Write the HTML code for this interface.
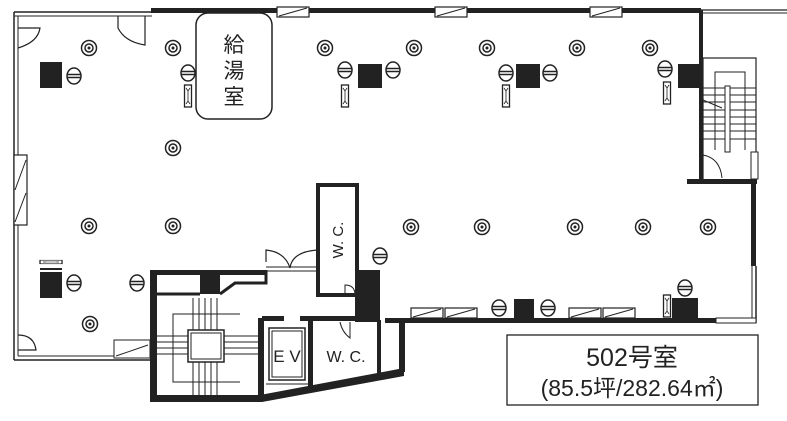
<!DOCTYPE html>
<html><head><meta charset="utf-8"><style>
html,body{margin:0;padding:0;background:#fff;}
svg{display:block;}
text{font-family:"Liberation Sans","Noto Sans CJK JP",sans-serif;fill:#222;}
</style></head><body>
<svg width="787" height="421" viewBox="0 0 787 421" xmlns="http://www.w3.org/2000/svg">
<defs>
<g id="lt"><circle r="7.5" fill="#fff" stroke="#222" stroke-width="1.5"/><circle r="4" fill="none" stroke="#222" stroke-width="1.5"/><circle r="1.5" fill="#222"/></g>
<g id="sc"><ellipse rx="7" ry="8" fill="#fff" stroke="#222" stroke-width="1.5"/><line x1="-7" y1="-1.5" x2="7" y2="-1.5" stroke="#222" stroke-width="1.5"/><line x1="-7" y1="1.5" x2="7" y2="1.5" stroke="#222" stroke-width="1.5"/></g>
<g id="hg"><rect x="-3.5" y="-11" width="7" height="22" fill="#fff" stroke="#222" stroke-width="1.3"/><path d="M-2 -8 L0 -5 L2 -8 M-2 8 L0 5 L2 8 M0 -5 V5" stroke="#222" fill="none" stroke-width="0.8"/></g>
<g id="win"><rect x="0" y="-5" width="32" height="10" fill="#fff" stroke="#222" stroke-width="1.2"/><line x1="2" y1="4" x2="30" y2="-4" stroke="#222" stroke-width="1"/></g>
</defs>
<g fill="none" stroke="#222">
<line x1="14" y1="12" x2="152" y2="12" stroke-width="1.5"/>
<line x1="14" y1="16" x2="152" y2="16" stroke-width="1"/>
<rect x="151" y="8" width="550" height="5" fill="#222" stroke="none"/>
<line x1="700" y1="10" x2="787" y2="10" stroke-width="1.2"/>
<line x1="700" y1="13" x2="787" y2="13" stroke-width="1"/>
<line x1="14" y1="12" x2="14" y2="360" stroke-width="1.5"/>
<line x1="18" y1="16" x2="18" y2="356" stroke-width="1"/>
<line x1="14" y1="360" x2="152" y2="360" stroke-width="1.5"/>
<line x1="18" y1="356" x2="152" y2="356" stroke-width="1"/>
<rect x="14" y="155" width="13" height="70" fill="#fff" stroke-width="1.2"/>
<line x1="15" y1="190" x2="26" y2="160" stroke-width="1"/>
<line x1="15" y1="222" x2="26" y2="193" stroke-width="1"/>
<path d="M18 28 H40 Q38 42 18 48" stroke-width="1.2"/>
<path d="M118 16 V28 Q125 42 145 45 V16" stroke-width="1.2"/>
<path d="M18 335 Q34 335 36 350 H18" stroke-width="1.2"/>
<rect x="699" y="10" width="4" height="170" fill="#222" stroke="none"/>
<rect x="703" y="58" width="53" height="122" fill="none" stroke-width="1.2"/>
<rect x="687" y="179" width="70" height="5" fill="#222" stroke="none"/>
<rect x="751" y="184" width="5" height="82" fill="#222" stroke="none"/>
<line x1="756" y1="266" x2="756" y2="323" stroke-width="1.5"/>
<line x1="752" y1="266" x2="752" y2="320" stroke-width="1"/>
<rect x="751" y="152" width="7" height="27" fill="#fff" stroke-width="1"/>
<g stroke-width="1">
<line x1="703" y1="88" x2="756" y2="88"/><line x1="703" y1="95" x2="756" y2="95"/><line x1="703" y1="102" x2="756" y2="102"/><line x1="703" y1="110" x2="756" y2="110"/><line x1="703" y1="117" x2="756" y2="117"/><line x1="703" y1="124" x2="756" y2="124"/><line x1="703" y1="131" x2="756" y2="131"/><line x1="703" y1="139" x2="756" y2="139"/>
<rect x="725" y="86" width="5" height="66" fill="#fff"/>
<path d="M715 150 V72 H745 V150"/>
<path d="M703 100 L722 108"/>
<path d="M703 178 V155 Q720 158 722 178"/>
</g>
<rect x="385" y="318" width="370" height="5" fill="#222" stroke="none"/>
<g transform="translate(411,313)"><use href="#win"/></g>
<g transform="translate(445,313)"><use href="#win"/></g>
<g transform="translate(569,313)"><use href="#win"/></g>
<g transform="translate(603,313)"><use href="#win"/></g>
<rect x="716" y="318" width="40" height="5" fill="#fff" stroke-width="1"/>
<g transform="translate(277,12)"><use href="#win"/></g>
<g transform="translate(435,12)"><use href="#win"/></g>
<g transform="translate(590,12)"><use href="#win"/></g>
<rect x="196" y="13" width="76" height="106" rx="12" fill="#fff" stroke-width="1.5"/>
<rect x="318" y="185" width="39" height="110" fill="#fff" stroke-width="4"/>
<path d="M345 295 V285 Q355 285 355 295" stroke-width="1"/>
<path d="M266 262 V250 Q285 252 290 268 Q292 252 317 250 V262" stroke-width="1.2"/>
<line x1="266" y1="267" x2="317" y2="267" stroke-width="1"/>
<line x1="266" y1="271" x2="317" y2="271" stroke-width="1"/>
<rect x="150" y="270" width="7" height="130" fill="#222" stroke="none"/>
<rect x="150" y="270" width="116" height="5" fill="#222" stroke="none"/>
<rect x="200" y="272" width="20" height="22" fill="#222" stroke="none"/>
<path d="M157 294 H200 M220 294 L235 283 H266 V270" stroke-width="3"/>
<polygon points="150,395 260,395 404,368 404,376 262,402 150,402" fill="#222" stroke="none"/>
<rect x="258" y="318" width="6" height="80" fill="#222" stroke="none"/>
<rect x="262" y="316" width="22" height="5" fill="#222" stroke="none"/>
<rect x="300" y="316" width="60" height="5" fill="#222" stroke="none"/>
<rect x="308" y="318" width="5" height="72" fill="#222" stroke="none"/>
<rect x="377" y="320" width="4" height="58" fill="#222" stroke="none"/>
<rect x="399" y="320" width="6" height="52" fill="#222" stroke="none"/>
<rect x="355" y="270" width="25" height="52" fill="#222" stroke="none"/>
<rect x="269" y="328" width="36" height="52" fill="#fff" stroke-width="1.5"/>
<rect x="272" y="331" width="30" height="46" fill="none" stroke-width="1"/>
<line x1="266" y1="384" x2="308" y2="384" stroke-width="1"/>
<path d="M340 322 Q342 332 350 338 V322" stroke-width="1"/>
<g stroke-width="1">
<rect x="188" y="330" width="36" height="32" fill="#fff" stroke-width="1.5"/>
<rect x="191" y="333" width="30" height="26" fill="none"/>
<line x1="193" y1="298" x2="193" y2="330"/><line x1="199" y1="298" x2="199" y2="330"/><line x1="205" y1="298" x2="205" y2="330"/><line x1="211" y1="298" x2="211" y2="330"/><line x1="217" y1="298" x2="217" y2="330"/>
<line x1="193" y1="362" x2="193" y2="395"/><line x1="199" y1="362" x2="199" y2="395"/><line x1="205" y1="362" x2="205" y2="395"/><line x1="211" y1="362" x2="211" y2="395"/><line x1="217" y1="362" x2="217" y2="395"/>
<line x1="157" y1="336" x2="188" y2="336"/><line x1="157" y1="342" x2="188" y2="342"/><line x1="157" y1="348" x2="188" y2="348"/><line x1="157" y1="354" x2="188" y2="354"/>
<line x1="224" y1="336" x2="258" y2="336"/><line x1="224" y1="342" x2="258" y2="342"/><line x1="224" y1="348" x2="258" y2="348"/><line x1="224" y1="354" x2="258" y2="354"/>
<path d="M240 314 H173 V382 H240"/>
</g>
<rect x="114" y="340" width="36" height="18" fill="#fff" stroke-width="1"/>
<line x1="116" y1="356" x2="148" y2="345" stroke-width="1"/>
<rect x="507" y="335" width="251" height="70" fill="#fff" stroke-width="1.3"/>
</g>
<g fill="#222">
<rect x="40" y="62" width="22" height="26"/><rect x="358" y="64" width="24" height="24"/><rect x="516" y="64" width="24" height="24"/><rect x="678" y="64" width="22" height="24"/>
<rect x="40" y="272" width="22" height="26"/><rect x="514" y="299" width="20" height="22"/><rect x="672" y="298" width="26" height="22"/>
</g>
<rect x="40" y="268" width="22" height="2" fill="#222"/>
<g transform="translate(51,262) rotate(90)"><use href="#hg" transform="scale(0.5,1)"/></g>
<g>
<use href="#lt" x="89" y="48"/><use href="#lt" x="173" y="48"/><use href="#lt" x="325" y="48"/><use href="#lt" x="414" y="48"/><use href="#lt" x="487" y="48"/><use href="#lt" x="577" y="48"/><use href="#lt" x="650" y="48"/>
<use href="#lt" x="173" y="148"/>
<use href="#lt" x="89" y="226"/><use href="#lt" x="173" y="226"/><use href="#lt" x="411" y="227"/><use href="#lt" x="482" y="227"/><use href="#lt" x="575" y="227"/><use href="#lt" x="643" y="227"/><use href="#lt" x="708" y="227"/>
<use href="#lt" x="90" y="324"/>
</g>
<g>
<use href="#sc" x="74" y="76"/><use href="#sc" x="188" y="73"/><use href="#sc" x="345" y="70"/><use href="#sc" x="393" y="70"/><use href="#sc" x="506" y="73"/><use href="#sc" x="550" y="73"/><use href="#sc" x="665" y="69"/>
<use href="#sc" x="74" y="283"/><use href="#sc" x="137" y="283"/><use href="#sc" x="380" y="256"/><use href="#sc" x="499" y="308"/><use href="#sc" x="548" y="308"/><use href="#sc" x="685" y="288"/>
</g>
<g>
<use href="#hg" x="188" y="96"/><use href="#hg" x="345" y="96"/><use href="#hg" x="506" y="96"/><use href="#hg" x="667" y="93"/><use href="#hg" x="667" y="306"/>
</g>
<text x="234" y="52" font-size="21" text-anchor="middle">給</text>
<text x="234" y="78" font-size="21" text-anchor="middle">湯</text>
<text x="234" y="104" font-size="21" text-anchor="middle">室</text>
<text transform="translate(343,240) rotate(-90)" font-size="15" text-anchor="middle">W. C.</text>
<text x="346" y="362" font-size="16" text-anchor="middle">W. C.</text>
<text x="287" y="362" font-size="17" text-anchor="middle">E V</text>
<text x="632" y="366" font-size="25" text-anchor="middle">502号室</text>
<text x="632" y="396" font-size="23" text-anchor="middle">(85.5坪/282.64㎡)</text>
</svg>
</body></html>
